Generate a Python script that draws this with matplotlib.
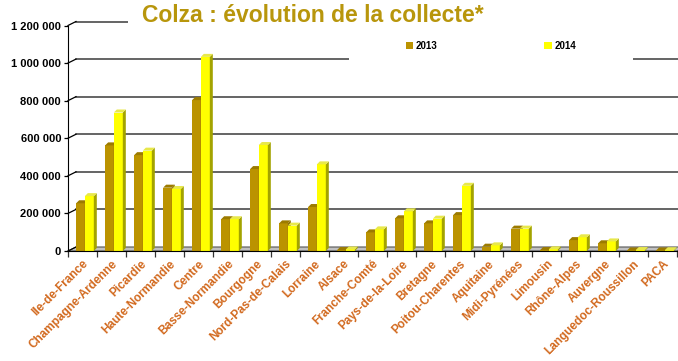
import matplotlib
matplotlib.use('Agg')
import matplotlib.pyplot as plt
from matplotlib.patches import Polygon, Rectangle, Patch
from matplotlib.ticker import FuncFormatter, MultipleLocator

plt.rcParams['font.family'] = ['Liberation Sans', 'DejaVu Sans']

# Collecte de colza par région (tonnes)
regions = ['Ile-de-France', 'Champagne-Ardenne', 'Picardie', 'Haute-Normandie',
           'Centre', 'Basse-Normandie', 'Bourgogne', 'Nord-Pas-de-Calais',
           'Lorraine', 'Alsace', 'Franche-Comté', 'Pays-de-la-Loire', 'Bretagne',
           'Poitou-Charentes', 'Aquitaine', 'Midi-Pyrénées', 'Limousin',
           'Rhône-Alpes', 'Auvergne', 'Languedoc-Roussillon', 'PACA']
v2013 = [254000, 562000, 510000, 337000, 803000, 169000, 436000, 147000,
         234000, 5000, 99000, 174000, 147000, 191000, 23000, 119000, 5000,
         58000, 41000, 3000, 3000]
v2014 = [292000, 737000, 534000, 330000, 1033000, 169000, 564000, 135000,
         461000, 8000, 115000, 211000, 172000, 347000, 30000, 119000, 9000,
         73000, 51000, 5000, 4000]
years = ['2013', '2014']

W, H = 678, 361
fig = plt.figure(figsize=(W / 100, H / 100), dpi=100)
fig.patch.set_facecolor('white')

# plot frame in pixels
x0, x1, yb, yt = 68, 677, 251, 25.5
ax = fig.add_axes([x0 / W, 1 - yb / H, (x1 - x0) / W, (yb - yt) / H])
n = len(regions)
ymax = 1200000
ax.set_xlim(-0.5, n - 0.5)
ax.set_ylim(0, ymax)

px_x = n / (x1 - x0)
px_y = ymax / (yb - yt)
wall_dx, wall_dy = 8 * px_x, 4 * px_y
bar_dx, bar_dy = 3 * px_x, 3 * px_y

# floor
floor = Polygon([(-0.5, 0), (n - 0.5, 0), (n - 0.5 + wall_dx, wall_dy),
                 (-0.5 + wall_dx, wall_dy)], closed=True, facecolor='#c0c0c0',
                edgecolor='#555555', lw=0.8, clip_on=False, zorder=1)
ax.add_patch(floor)

# back wall gridlines + diagonal connectors
for v in range(0, ymax + 1, 200000):
    if v > 0:
        ax.plot([-0.5 + wall_dx, n - 0.5 + wall_dx], [v + wall_dy] * 2,
                color='#3a3a3a', lw=1.1, clip_on=False, zorder=1)
    ax.plot([-0.5, -0.5 + wall_dx], [v, v + wall_dy], color='black',
            lw=0.9, clip_on=False, zorder=1)


def bar3d(x, w, h, front, top, side):
    ax.add_patch(Rectangle((x, 0), w, h, facecolor=front, edgecolor='none',
                           zorder=3))
    ax.add_patch(Polygon([(x + w, 0), (x + w + bar_dx, bar_dy),
                          (x + w + bar_dx, h + bar_dy), (x + w, h)],
                         closed=True, facecolor=side, edgecolor='none', zorder=3))
    ax.add_patch(Polygon([(x, h), (x + w, h), (x + w + bar_dx, h + bar_dy),
                          (x + bar_dx, h + bar_dy)],
                         closed=True, facecolor=top, edgecolor='none', zorder=3))


c13 = ('#bb9300', '#9c7b00', '#8a6c00')
c14 = ('#ffff00', '#e8e84a', '#a3a300')
for i in range(n):
    bar3d(i - 0.22, 0.30, v2013[i], *c13)
    bar3d(i + 0.08, 0.31, v2014[i], *c14)

# axes styling
for s in ['top', 'right']:
    ax.spines[s].set_visible(False)
ax.spines['left'].set_color('black')
ax.spines['bottom'].set_color('black')
ax.spines['left'].set_zorder(4)
ax.spines['bottom'].set_zorder(4)

ax.yaxis.set_major_locator(MultipleLocator(200000))
ax.yaxis.set_major_formatter(FuncFormatter(lambda v, p: f'{int(v):,}'.replace(',', ' ')))
ax.tick_params(axis='y', length=3, width=0.9, pad=2, labelsize=8)
for t in ax.get_yticklabels():
    t.set_fontweight('bold')

ax.set_xticks(range(n))
ax.set_xticks([i - 0.5 for i in range(n + 1)], minor=True)
ax.tick_params(axis='x', which='major', length=0, pad=5)
ax.tick_params(axis='x', which='minor', length=4, width=0.9, color='#333333')
ax.set_xticklabels(regions, rotation=45, ha='right', rotation_mode='anchor',
                   color='#d2691e', fontsize=8.5, fontweight='bold')

# white boxes behind title and legend
fig.patches.append(Rectangle((128 / W, 1 - 32 / H), (W - 128) / W, 30 / H,
                             transform=fig.transFigure, facecolor='white',
                             edgecolor='none', zorder=1))
fig.patches.append(Rectangle((349 / W, 1 - 64 / H), (633 - 349) / W, 34 / H,
                             transform=fig.transFigure, facecolor='white',
                             edgecolor='none', zorder=1))

fig.text(313 / W, 1 - 16 / H, 'Colza : évolution de la collecte*',
         ha='center', va='center', fontsize=16.5, fontweight='bold',
         color='#b8960c', zorder=3)

handles = [Patch(facecolor=c13[0]), Patch(facecolor=c14[0])]
fig.legend(handles, years, loc='center', bbox_to_anchor=(491 / W, 1 - 46 / H),
           ncol=2, frameon=False, handlelength=0.75, handleheight=0.75,
           handletextpad=0.3, columnspacing=11,
           prop={'weight': 'bold', 'size': 7})

fig.savefig('out.png', dpi=100, facecolor='white')
